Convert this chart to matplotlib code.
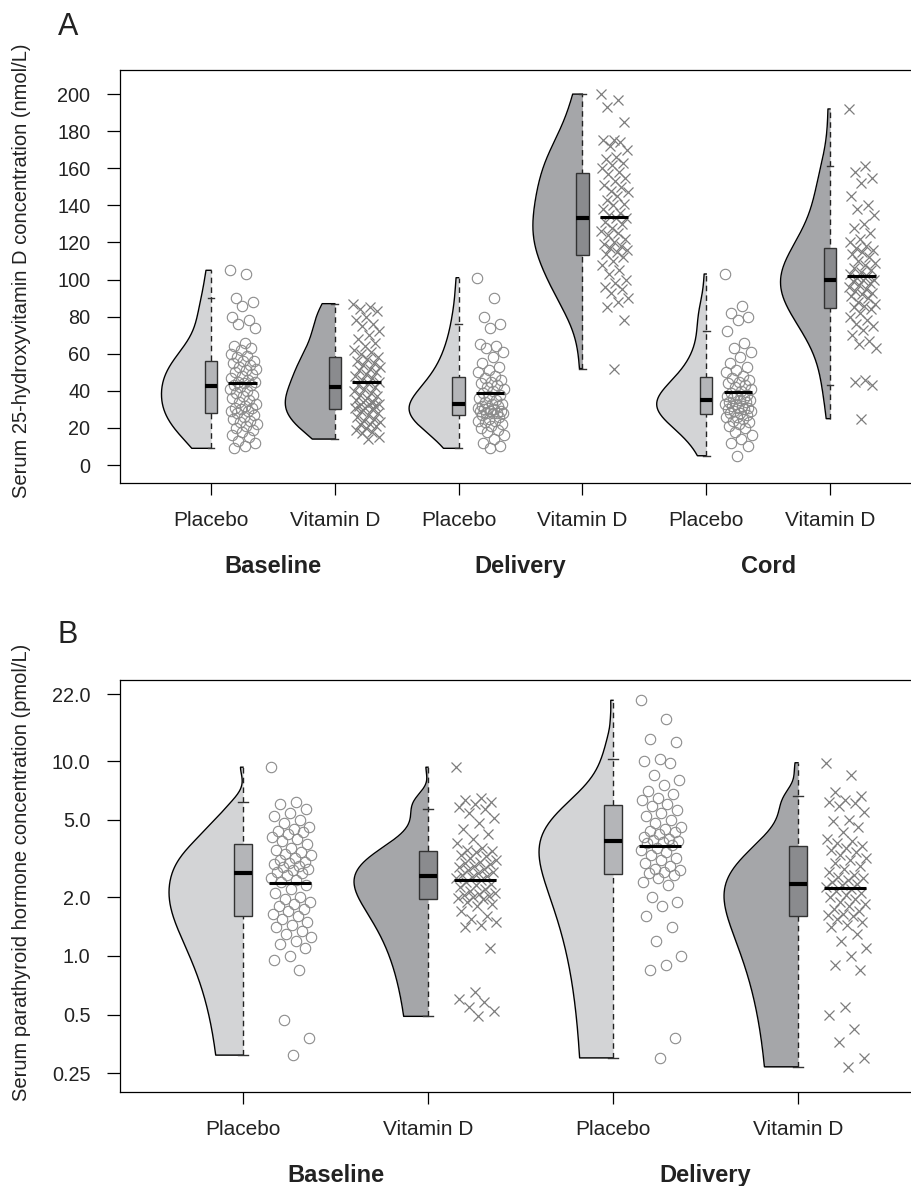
import numpy as np
import matplotlib
matplotlib.use("Agg")
import matplotlib.pyplot as plt
from matplotlib import mlab

plt.rcParams["font.family"] = ["Liberation Sans", "DejaVu Sans"]

# ---- panel A: serum 25-hydroxyvitamin D (nmol/L) ----
a_groups = ["Baseline", "Delivery", "Cord"]
a_arms = ["Placebo", "Vitamin D", "Placebo", "Vitamin D", "Placebo", "Vitamin D"]

a_base_pla = [105, 103, 90, 88, 86, 80, 78, 76, 74, 66, 64, 63, 62, 60, 59, 58,
              56, 56, 55, 54, 53, 52, 51, 50, 49, 48, 47, 46, 45, 45, 44, 43, 43,
              42, 41, 40, 39, 38, 37, 36, 35, 34, 33, 32, 31, 31, 30, 29, 29,
              28, 27, 26, 25, 24, 23, 22, 21, 20, 19, 18, 16, 15, 13, 12, 10, 9]
a_base_vit = [87, 85, 84, 83, 80, 78, 76, 75, 72, 70, 68, 66, 64, 62, 61, 60,
              58, 57, 56, 55, 54, 53, 52, 51, 50, 49, 48, 47, 46, 45, 44, 43,
              42, 41, 40, 39, 38, 37, 36, 35, 34, 34, 33, 33, 32, 32, 31, 31,
              30, 29, 28, 27, 26, 25, 24, 23, 22, 22, 21, 20, 19, 18, 17, 15, 14]
a_del_pla = [101, 90, 80, 76, 74, 65, 64, 63, 61, 58, 55, 53, 51, 50, 48, 47,
             46, 45, 44, 43, 42, 41, 40, 39, 38, 37, 36, 35, 34, 33, 33,
             32, 32, 31, 31, 30, 30, 29, 29, 29, 28, 28, 28, 28,
             27, 26, 25, 24, 24, 23, 22, 21, 20, 19, 18, 16, 14, 12, 10, 9]
a_del_vit = [200, 197, 193, 185, 175, 175, 174, 172, 170, 166, 165, 163, 162, 160, 158, 157,
             155, 153, 151, 150, 148, 147, 145, 143, 141, 140, 138, 136, 135, 133, 133,
             131, 130, 128, 126, 125, 124, 122, 120, 119, 118, 117, 116, 115, 114,
             112, 110, 108, 105, 103, 100, 98, 96, 95, 93, 90, 88, 85, 78, 52]
a_cord_pla = [103, 86, 82, 80, 78, 72, 66, 63, 61, 58, 55, 53, 51, 50, 48, 47,
              46, 45, 44, 43, 42, 41, 40, 39, 38, 38, 37, 36, 36, 35, 35,
              34, 34, 33, 33, 32, 32, 31, 31, 30, 30, 29, 29, 28, 28,
              27, 26, 26, 25, 24, 23, 22, 21, 20, 18, 16, 14, 12, 10, 5]
a_cord_vit = [192, 161, 158, 155, 152, 145, 140, 138, 135, 130, 128, 125, 122, 120, 118, 117,
              116, 115, 114, 112, 110, 109, 108, 106, 105, 104, 103, 102, 101, 100, 100,
              99, 98, 97, 96, 95, 94, 93, 92, 91, 90, 88, 87, 86, 85,
              84, 82, 80, 78, 76, 75, 73, 70, 67, 65, 63, 46, 45, 43, 25]

# ---- panel B: serum parathyroid hormone (pmol/L) ----
b_groups = ["Baseline", "Delivery"]
b_arms = ["Placebo", "Vitamin D", "Placebo", "Vitamin D"]

b_base_pla = [9.3, 6.2, 6.0, 5.7, 5.4, 5.2, 5.0, 4.8, 4.6, 4.5, 4.4, 4.3, 4.2, 4.1, 4.0, 3.9,
              3.75, 3.6, 3.5, 3.4, 3.35, 3.3, 3.2, 3.1, 3.05, 3.0, 2.95, 2.9, 2.85, 2.8, 2.75, 2.7,
              2.65, 2.6, 2.5, 2.45, 2.4, 2.3, 2.2, 2.1, 2.0, 1.95, 1.9, 1.85, 1.8, 1.75, 1.7, 1.65,
              1.6, 1.55, 1.5, 1.45, 1.4, 1.35, 1.3, 1.25, 1.2, 1.15, 1.1, 1.0, 0.95, 0.85,
              0.47, 0.38, 0.31]
b_base_vit = [9.3, 6.5, 6.3, 6.2, 6.0, 5.8, 5.65, 5.4, 5.1, 4.8, 4.5, 4.2, 4.0, 3.8, 3.6, 3.5,
              3.45, 3.4, 3.3, 3.25, 3.2, 3.1, 3.05, 3.0, 2.95, 2.9, 2.85, 2.8, 2.75, 2.7, 2.65, 2.6,
              2.58, 2.55, 2.5, 2.45, 2.4, 2.35, 2.3, 2.25, 2.2, 2.15, 2.1, 2.08, 2.05, 2.02, 2.0, 1.98,
              1.97, 1.9, 1.85, 1.8, 1.7, 1.6, 1.55, 1.5, 1.45, 1.4, 1.1,
              0.65, 0.6, 0.58, 0.55, 0.52, 0.49]
b_del_pla = [20.5, 16.5, 13.0, 12.5, 10.3, 10.0, 9.8, 8.5, 8.0, 7.5, 7.0, 6.8, 6.5, 6.3, 6.0, 5.9,
             5.6, 5.4, 5.2, 5.0, 4.8, 4.6, 4.5, 4.4, 4.3, 4.2, 4.1, 4.0, 3.95, 3.9, 3.85,
             3.8, 3.7, 3.6, 3.5, 3.4, 3.3, 3.2, 3.1, 3.0, 2.9, 2.8, 2.75, 2.7, 2.65,
             2.6, 2.5, 2.4, 2.3, 2.0, 1.9, 1.8, 1.6, 1.4, 1.2, 1.0, 0.9, 0.85, 0.38, 0.3]
b_del_vit = [9.8, 8.5, 6.9, 6.6, 6.3, 6.2, 6.1, 5.9, 5.5, 5.0, 4.9, 4.6, 4.3, 4.0, 3.9, 3.8,
             3.67, 3.6, 3.5, 3.4, 3.3, 3.2, 3.1, 3.0, 2.9, 2.8, 2.7, 2.6, 2.55, 2.5, 2.45, 2.4,
             2.34, 2.3, 2.25, 2.2, 2.15, 2.1, 2.05, 2.0, 1.95, 1.9, 1.85, 1.8, 1.75, 1.7, 1.65, 1.62,
             1.6, 1.55, 1.5, 1.45, 1.4, 1.3, 1.2, 1.1, 1.0, 0.9, 0.85,
             0.55, 0.5, 0.42, 0.36, 0.3, 0.27]

a_ticks = [0, 20, 40, 60, 80, 100, 120, 140, 160, 180, 200]
b_ticks = [0.25, 0.5, 1.0, 2.0, 5.0, 10.0, 22.0]
b_ticklabels = ["0.25", "0.5", "1.0", "2.0", "5.0", "10.0", "22.0"]

VIOLIN = {"Placebo": "#d3d4d6", "Vitamin D": "#a5a6a9"}
BOX = {"Placebo": "#b4b5b8", "Vitamin D": "#8a8b8e"}
TEXT = "#222222"


def raincloud(ax, datasets, arms, log=False):
    positions = np.arange(1, len(datasets) + 1)
    for pos, vals, arm in zip(positions, datasets, arms):
        vals = np.asarray(vals, float)
        # density on the raw values, drawn from min to max
        kde = mlab.GaussianKDE(vals, "silverman")
        if log:
            ys = np.geomspace(vals.min(), vals.max(), 300)
        else:
            ys = np.linspace(vals.min(), vals.max(), 300)
        dens = kde.evaluate(ys)
        half = 0.4 * dens / dens.max()
        ax.fill_betweenx(ys, pos - half, pos, color=VIOLIN[arm], lw=0, zorder=1)
        ax.plot(np.r_[pos, pos - half, pos], np.r_[ys[0], ys, ys[-1]],
                color="black", lw=1, zorder=2)
        ax.vlines(pos, vals.min(), vals.max(), colors="#222222",
                  linestyles=(0, (4, 3)), lw=1, zorder=2)
        # box
        ax.boxplot([vals], positions=[pos], widths=0.1, whis=1.5,
                   patch_artist=True, showfliers=False, capwidths=0.055,
                   boxprops=dict(facecolor=BOX[arm], edgecolor="#333333", lw=1),
                   medianprops=dict(color="black", lw=3, solid_capstyle="butt"),
                   whiskerprops=dict(lw=0), capprops=dict(color="#333333", lw=1),
                   zorder=3)
        # jittered points
        jit = 0.15 + 0.22 * ((np.arange(len(vals)) * 0.618034) % 1)
        if arm == "Placebo":
            ax.plot(pos + jit, vals, ls="none", marker="o", mfc="none",
                    mec="#8c8c8c", ms=7.5, mew=0.8, zorder=3)
        else:
            ax.plot(pos + jit, vals, ls="none", marker="x",
                    color="#7d7d7d", ms=7.8, mew=0.9, zorder=3)
        mean = 10 ** np.mean(np.log10(vals)) if log else np.mean(vals)
        ax.hlines(mean, pos + 0.14, pos + 0.37, colors="black", lw=2.2, zorder=4)
    ax.set_xticks(positions, arms)
    ax.spines["right"].set_visible(False)
    for s in ["left", "bottom", "top"]:
        ax.spines[s].set_linewidth(0.9)
    ax.tick_params(axis="x", length=8.6, width=0.9, pad=11.5, labelsize=15, labelcolor=TEXT)
    ax.tick_params(axis="y", length=9.4, width=0.9, pad=12, labelsize=14.3, labelcolor=TEXT)
    return positions


fig = plt.figure(figsize=(9.12, 11.86), dpi=100)
H = 1186.0
W = 912.0

ax_a = fig.add_axes([120 / W, 1 - 483 / H, 792 / W, 413 / H])
pos_a = raincloud(ax_a, [a_base_pla, a_base_vit, a_del_pla, a_del_vit, a_cord_pla, a_cord_vit], a_arms)
ax_a.set_xlim(0.265, 6.662)
ax_a.set_ylim(-9.7, 213)
ax_a.set_yticks(a_ticks)
for i, g in enumerate(a_groups):
    ax_a.text(pos_a[2 * i] + 0.5, -0.218, g, transform=ax_a.get_xaxis_transform(),
              ha="center", va="baseline", fontsize=17, fontweight="bold", color=TEXT)

ax_b = fig.add_axes([120 / W, 1 - 1092 / H, 792 / W, 412 / H])
pos_b = raincloud(ax_b, [b_base_pla, b_base_vit, b_del_pla, b_del_vit], b_arms, log=True)
ax_b.set_yscale("log")
ax_b.set_xlim(0.335, 4.616)
ax_b.set_ylim(0.2005, 26.05)
ax_b.set_yticks(b_ticks, b_ticklabels)
ax_b.yaxis.set_minor_locator(matplotlib.ticker.NullLocator())
for i, g in enumerate(b_groups):
    ax_b.text(pos_b[2 * i] + 0.5, -0.218, g, transform=ax_b.get_xaxis_transform(),
              ha="center", va="baseline", fontsize=17, fontweight="bold", color=TEXT)

fig.text(68 / W, 1 - 35 / H, "A", ha="center", va="baseline", fontsize=22, color=TEXT)
fig.text(68 / W, 1 - 643 / H, "B", ha="center", va="baseline", fontsize=22, color=TEXT)
fig.text(22 / W, 1 - 271 / H, "Serum 25-hydroxyvitamin D concentration (nmol/L)",
         rotation=90, ha="center", va="center", fontsize=14.5, color=TEXT)
fig.text(22 / W, 1 - 872 / H, "Serum parathyroid hormone concentration (pmol/L)",
         rotation=90, ha="center", va="center", fontsize=14.5, color=TEXT)

fig.savefig("out.png", dpi=100)
